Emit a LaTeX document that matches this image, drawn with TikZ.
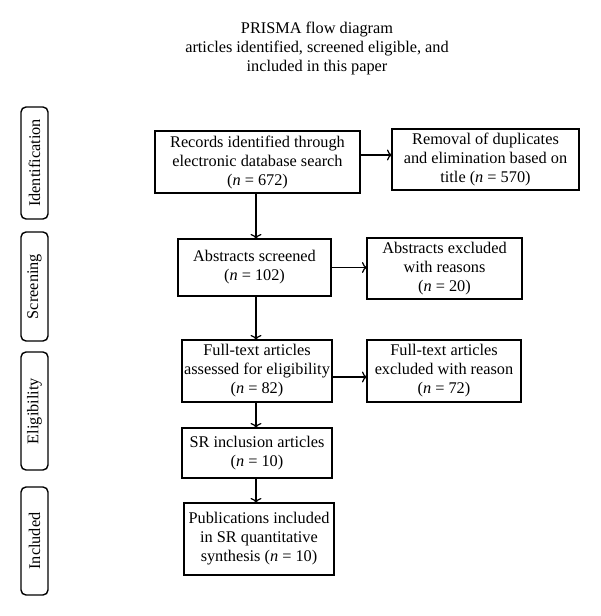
\documentclass[tikz,border=0pt]{standalone}
\usepackage{fontspec}
\setmainfont{Liberation Serif}
\usetikzlibrary{arrows.meta}
\newcommand{\nn}{\textit{n}}
\begin{document}
\begin{tikzpicture}[x=1pt,y=1pt,
  every node/.style={font=\fontsize{16.3}{19}\selectfont},
  box/.style={draw, line width=1.4pt, align=center, inner sep=0pt, outer sep=0pt},
  side/.style={draw, line width=1.4pt, rounded corners=5pt, minimum width=27pt, inner sep=0pt, outer sep=0pt},
  arr/.style={line width=1.2pt, -{To[length=5pt,width=11pt]}}]
\useasboundingbox (0,0) rectangle (600,-616);
% title
\node[align=center] (title) at (317,-48) {PRISMA flow diagram\\articles identified, screened eligible, and\\included in this paper};
% side labels
\node[side, minimum height=112pt] (sid) at (34.5,-163) {};
\node[rotate=90] (sidt) at (sid.center) {Identification};
\node[side, minimum height=109pt] (sscr) at (34.5,-286.5) {};
\node[rotate=90] (sscrt) at (sscr.center) {Screening};
\node[side, minimum height=118pt] (selig) at (34.5,-411) {};
\node[rotate=90] (seligt) at (selig.center) {Eligibility};
\node[side, minimum height=108pt] (sinc) at (34.5,-541) {};
\node[rotate=90] (sinct) at (sinc.center) {Included};
% boxes
\node[box, minimum width=205pt, minimum height=62pt] (rec) at (257.5,-162) {Records identified through\\electronic database search\\(\nn{} = 672)};
\node[box, minimum width=187pt, minimum height=61pt] (rem) at (485.5,-159.5) {Removal of duplicates\\and elimination based on\\title (\nn{} = 570)};
\node[box, minimum width=153pt, minimum height=57pt] (abs) at (254.5,-267.5) {Abstracts screened\\(\nn{} = 102)};
\node[box, minimum width=155pt, minimum height=61pt] (absx) at (444.5,-268.5) {Abstracts excluded\\with reasons\\(\nn{} = 20)};
\node[box, minimum width=150pt, minimum height=62pt] (ft) at (257,-371) {Full-text articles\\assessed for eligibility\\(\nn{} = 82)};
\node[box, minimum width=154pt, minimum height=62pt] (ftx) at (444,-371) {Full-text articles\\excluded with reason\\(\nn{} = 72)};
\node[box, minimum width=150pt, minimum height=50pt] (sr) at (257,-453) {SR inclusion articles\\(\nn{} = 10)};
\node[box, minimum width=150pt, minimum height=72pt] (pub) at (259,-539) {Publications included\\in SR quantitative\\synthesis (\nn{} = 10)};
% arrows
\coordinate (colx) at (256,0);
\draw[arr] (rec.south -| colx) -- (abs.north -| colx);
\draw[arr] (abs.south -| colx) -- (ft.north -| colx);
\draw[arr] (ft.south -| colx) -- (sr.north -| colx);
\draw[arr] (sr.south -| colx) -- (pub.north -| colx);
\coordinate (r1) at (0,-155);
\draw[arr] (rec.east |- r1) -- (rem.west |- r1);
\draw[arr] (abs.east) -- (absx.west |- abs.east);
\coordinate (r3) at (0,-377);
\draw[arr] (ft.east |- r3) -- (ftx.west |- r3);
\end{tikzpicture}
\end{document}
